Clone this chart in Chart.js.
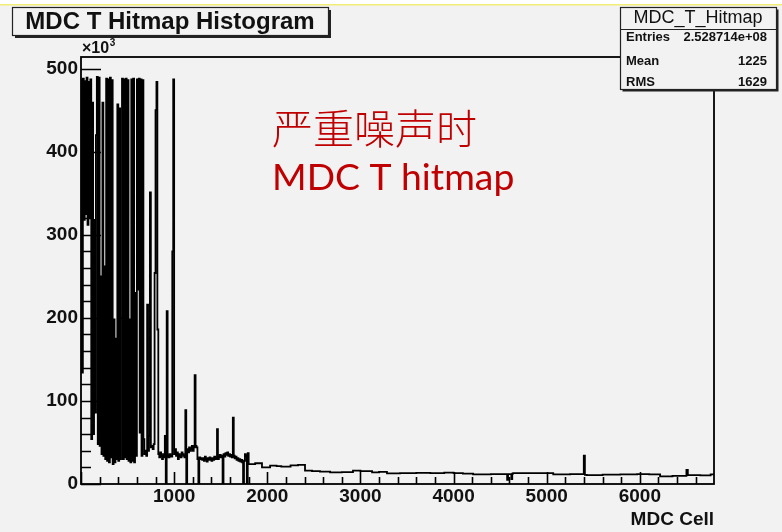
<!DOCTYPE html>
<html>
<head>
<meta charset="utf-8">
<script src="https://cdn.jsdelivr.net/npm/chart.js@4/dist/chart.umd.min.js"></script>
<style>
  html, body { margin: 0; padding: 0; background: #f2f2f2; overflow: hidden; }
  canvas { display: block; }
</style>
</head>
<body>
<canvas id="hitmap" width="782" height="532"></canvas>
<script>
// MDC T hitmap: hits per cell, in thousands.
// Inner region: fixed 10-cell bins starting at cell 0.
const noisyBinWidth = 10;
const noisyHitsK = [
  486, 134, 488, 318, 485, 325, 489, 312, 484, 320,
  487,  54, 459,  60, 318,  86, 420, 490,  48, 489,
   46, 250,  36, 459,  34, 262,  30, 488,  28, 487,
   26, 489,  32, 486,  24, 198,  26, 175,  30, 457,
   28, 452,  30, 200, 488,  30, 487,  32, 488,  30,
  486,  28, 198,  26, 487,  28, 488,  26, 230,  34,
  487, 234, 488,  62, 487,  34, 486,  54,  36,  40,
   34, 216,  40,  58, 351,  44,  46,  42,  48, 254,
  450, 484, 186,  36,  32,  38,  34,  30,  36,  32,
   58,   0, 208,  34,  32,  36,  34,  33, 280, 487,
   36,  42,  34,  38,  30,  36,  34,  32,  38,  36,
   34,  32,  89,   0,  42,  38,  44,  40,  42,  46,
   40,  44, 131,  46,  44,  30,   0,  32,  30,  31,
   29,  31,  28,  33,  30,  27,  31,  29,  32,  30,
   28,  31,  29,  33,  30,  31,  66,  30,  33,  35,
   32,  34,   0,  36,  33,  37,  35,  38,  34,  36,
   33,  35,  32,  80,  34,  31,  33,  29,  31,  28,
   30,  27,  29,  26,   0,  28,  36,  34,   0,  37
];
// Outer region: variable-width segments (first cell of segment, hits in thousands).
const tailStartCell = [
  1800, 1870, 1943, 2030, 2100, 2150, 2250, 2330, 2405, 2480,
  2566, 2674, 2800, 2920, 3000, 3125, 3200, 3285, 3425, 3600,
  3750, 3900, 4000, 4100, 4210, 4400, 4575, 4585, 4620, 4630,
  4640, 4850, 5070, 5250, 5398, 5410, 5430, 5600, 5790, 5970,
  6100, 6217, 6350, 6500, 6515, 6650, 6760
];
const tailHitsK = [
  24, 25, 20, 22, 21.5, 21, 22.5, 23, 16, 15.5,
  14.8, 14, 14.3, 16, 15.5, 14, 14.5, 12.8, 13, 13.4,
  13, 13.6, 13, 12.6, 11.6, 11.9, 5, 12, 6, 12.4,
  13, 13, 11.6, 12, 34, 11, 10.8, 11.2, 11.6, 12,
  11.5, 9.2, 9.8, 17, 10.8, 10.4, 11.6
];
const nCells = 6796;
const yTopK = 514;
const xTickValues = [1000, 2000, 3000, 4000, 5000, 6000];
const yTickValues = [0, 100, 200, 300, 400, 500];

const histTitle = 'MDC T Hitmap Histogram';
const statsName = 'MDC_T_Hitmap';
const statsLabels = ['Entries', 'Mean', 'RMS'];
const statsValues = ['2.528714e+08', '1225', '1629'];
const xAxisTitle = 'MDC Cell';
const noteLines = ['严重噪声时', 'MDC T hitmap'];

// Step outline: each point opens a bin, the last one closes the histogram.
const points = [];
noisyHitsK.forEach((v, i) => points.push({ x: i * noisyBinWidth, y: v }));
tailStartCell.forEach((c, i) => points.push({ x: c, y: tailHitsK[i] }));
points.push({ x: nCells, y: tailHitsK[tailHitsK.length - 1] });

const BG = '#f2f2f2';
const INK = '#111111';
const AXIS_FONT = { family: "'Liberation Sans', Arial, sans-serif", weight: 'bold', size: 19 };

function boxWithShadow(ctx, x, y, w, h, sh) {
  ctx.fillStyle = '#222';
  ctx.fillRect(x + sh, y + sh, w, h);
  ctx.fillStyle = BG;
  ctx.fillRect(x, y, w, h);
  ctx.strokeStyle = '#222';
  ctx.lineWidth = 1.2;
  ctx.strokeRect(x + 0.5, y + 0.5, w, h);
}

const histChrome = {
  id: 'histChrome',
  beforeDraw(chart) {
    const ctx = chart.ctx;
    ctx.save();
    ctx.fillStyle = BG;
    ctx.fillRect(0, 0, chart.width, chart.height);
    ctx.fillStyle = '#ffffff';
    ctx.fillRect(0, 0, chart.width, 4);
    ctx.fillStyle = '#f1ee78';
    ctx.fillRect(0, 4, chart.width, 1.5);
    ctx.restore();
  },
  afterDraw(chart) {
    const { ctx, chartArea: a, scales } = chart;
    const xs = scales.x, ys = scales.y;
    ctx.save();

    // inward tick marks
    ctx.strokeStyle = '#000000';
    ctx.lineWidth = 1.6;
    ctx.beginPath();
    for (let v = 0; v <= yTopK; v += 20) {
      const py = Math.round(ys.getPixelForValue(v)) + 0.5;
      const len = v % 100 === 0 ? 20 : 10;
      ctx.moveTo(a.left, py);
      ctx.lineTo(a.left + len, py);
    }
    for (let v = 0; v <= nCells; v += 200) {
      const px = Math.round(xs.getPixelForValue(v)) + 0.5;
      const len = v % 1000 === 0 ? 12 : 7;
      ctx.moveTo(px, a.bottom);
      ctx.lineTo(px, a.bottom - len);
    }
    ctx.stroke();

    // frame
    ctx.lineWidth = 1.8;
    ctx.strokeRect(a.left, a.top, a.right - a.left, a.bottom - a.top);

    // exponent above the y axis
    ctx.fillStyle = INK;
    ctx.textBaseline = 'alphabetic';
    ctx.textAlign = 'left';
    ctx.font = "bold 16px 'Liberation Sans', Arial, sans-serif";
    ctx.fillText('\u00d710', 82, 53);
    const w10 = ctx.measureText('\u00d710').width;
    ctx.font = "bold 10px 'Liberation Sans', Arial, sans-serif";
    ctx.fillText('3', 82 + w10 + 0.5, 46);

    // x axis title
    ctx.font = "bold 19px 'Liberation Sans', Arial, sans-serif";
    ctx.textAlign = 'right';
    ctx.textBaseline = 'middle';
    ctx.fillText(xAxisTitle, a.right, 520);

    // histogram title box
    boxWithShadow(ctx, 12, 7, 316, 28, 3);
    ctx.fillStyle = INK;
    ctx.textAlign = 'center';
    ctx.textBaseline = 'middle';
    ctx.font = "bold 24px 'Liberation Sans', Arial, sans-serif";
    ctx.fillText(histTitle, 170, 22.5);

    // statistics box
    boxWithShadow(ctx, 620, 7, 156, 82, 2.5);
    ctx.strokeStyle = '#222';
    ctx.lineWidth = 1.2;
    ctx.beginPath();
    ctx.moveTo(620, 29.5);
    ctx.lineTo(776, 29.5);
    ctx.stroke();
    ctx.fillStyle = INK;
    ctx.font = "18px 'Liberation Sans', Arial, sans-serif";
    ctx.fillText(statsName, 698, 18.5);
    ctx.font = "bold 13px 'Liberation Sans', Arial, sans-serif";
    const rowY = [37.5, 61.5, 82];
    statsLabels.forEach((lab, i) => {
      ctx.textAlign = 'left';
      ctx.fillText(lab, 626, rowY[i]);
      ctx.textAlign = 'right';
      ctx.fillText(statsValues[i], 767, rowY[i]);
    });

    // red note
    ctx.fillStyle = '#c00000';
    ctx.textAlign = 'left';
    ctx.textBaseline = 'alphabetic';
    ctx.font = "300 41px 'Noto Sans CJK SC', sans-serif";
    ctx.fillText(noteLines[0], 272, 144);
    ctx.font = "36px Lato, 'Open Sans', sans-serif";
    const wNote = ctx.measureText(noteLines[1]).width;
    const sz = 36 * 242 / wNote;
    ctx.font = sz.toFixed(1) + "px Lato, 'Open Sans', sans-serif";
    ctx.fillText(noteLines[1], 272, 190);

    ctx.restore();
  }
};

new Chart(document.getElementById('hitmap'), {
  type: 'line',
  data: {
    datasets: [{
      data: points,
      stepped: true,
      borderColor: '#000000',
      borderWidth: 1.8,
      pointRadius: 0,
      fill: false,
      tension: 0
    }]
  },
  options: {
    responsive: false,
    animation: false,
    events: [],
    layout: { padding: { top: 57, right: 68, left: 0, bottom: 0 } },
    plugins: { legend: { display: false }, tooltip: { enabled: false }, title: { display: false } },
    scales: {
      x: {
        type: 'linear',
        min: 0,
        max: nCells,
        grid: { display: false, drawTicks: false },
        border: { display: false },
        afterBuildTicks: s => { s.ticks = xTickValues.map(v => ({ value: v })); },
        ticks: {
          autoSkip: false,
          maxRotation: 0,
          padding: 1,
          color: INK,
          font: AXIS_FONT,
          callback: v => String(v)
        },
        afterFit: s => { s.height = 48; }
      },
      y: {
        type: 'linear',
        min: 0,
        max: yTopK,
        grid: { display: false, drawTicks: false },
        border: { display: false },
        afterBuildTicks: s => { s.ticks = yTickValues.map(v => ({ value: v })); },
        ticks: {
          autoSkip: false,
          padding: 3,
          color: INK,
          font: AXIS_FONT,
          callback: v => String(v)
        },
        afterFit: s => { s.width = 81; }
      }
    }
  },
  plugins: [histChrome]
});
</script>
</body>
</html>
